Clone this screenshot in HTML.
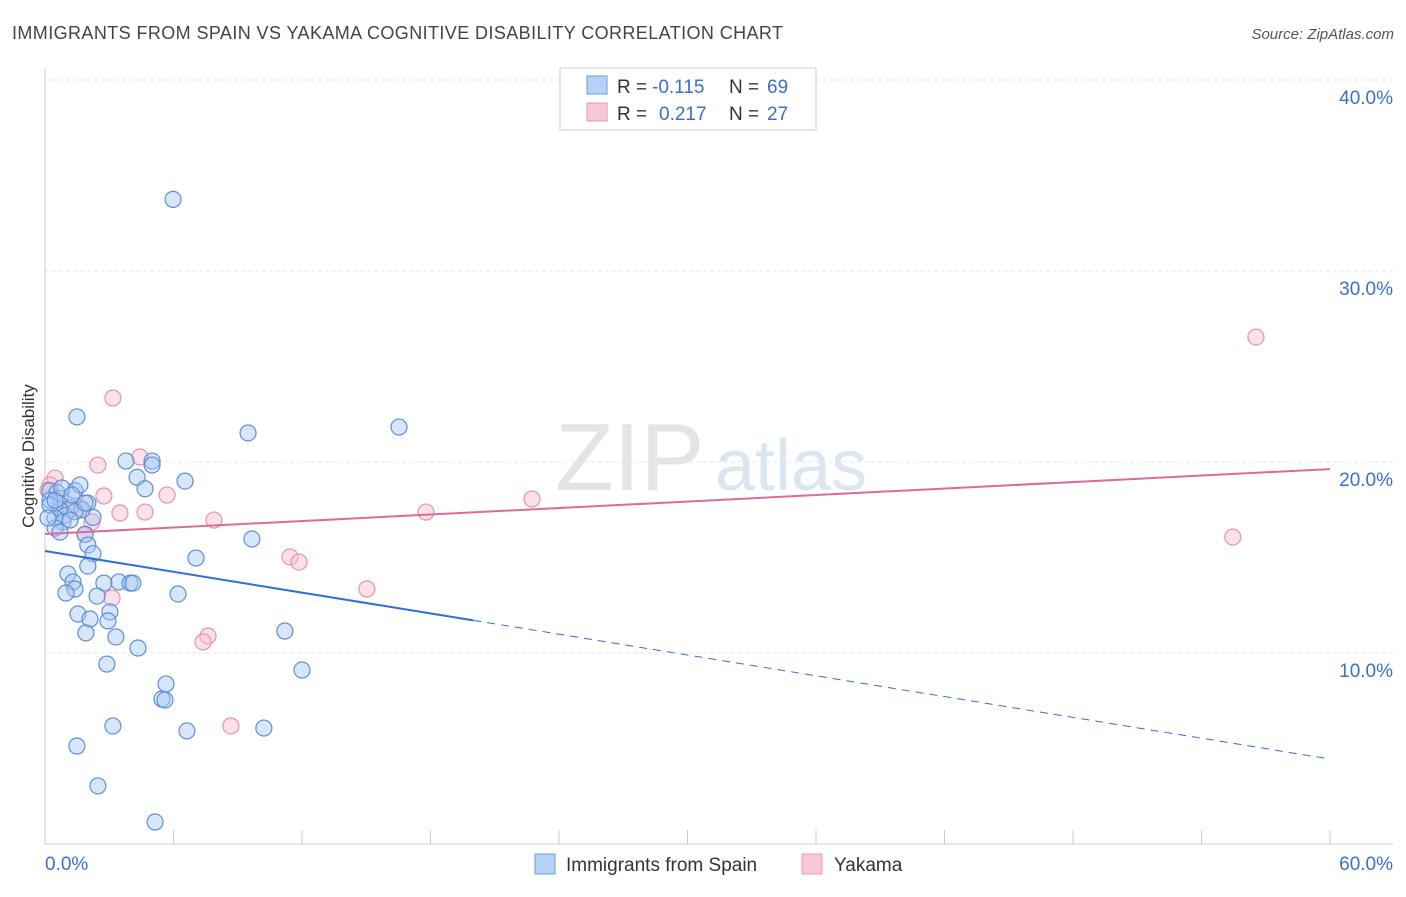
<!DOCTYPE html>
<html><head><meta charset="utf-8"><style>
body{margin:0;background:#fff;font-family:"Liberation Sans",sans-serif}
svg text{font-family:"Liberation Sans",sans-serif}
</style></head><body>
<svg id="c" width="1406" height="892" viewBox="0 0 1406 892" xmlns="http://www.w3.org/2000/svg">
<text x="12" y="39" font-size="18" fill="#444" textLength="771" lengthAdjust="spacing">IMMIGRANTS FROM SPAIN VS YAKAMA COGNITIVE DISABILITY CORRELATION CHART</text>
<text x="1394" y="39" font-size="15" fill="#555" text-anchor="end" font-style="italic">Source: ZipAtlas.com</text>
<text x="555" y="490" font-size="96" fill="#e4e4e4" font-family="Liberation Serif">ZIP</text>
<text x="715" y="490" font-size="72" fill="#dce6f3">atlas</text>
<text transform="translate(34,456) rotate(-90)" font-size="17" fill="#333" text-anchor="middle">Cognitive Disability</text>
<g id="grid"></g><g id="marks"></g>
<g>
<rect x="560" y="68" width="256" height="62" fill="#fff" stroke="#ccc"/>
<rect x="587" y="76" width="20" height="18" fill="#b5d1f5" stroke="#6a9de0"/>
<rect x="587" y="103" width="20" height="18" fill="#f9c8d6" stroke="#e79ab3"/>
<text x="617" y="93" font-size="19" fill="#333">R =</text>
<text x="652" y="93" font-size="19" fill="#3a6fd0">-0.115</text>
<text x="729" y="93" font-size="19" fill="#333">N =</text>
<text x="767" y="93" font-size="19" fill="#3a6fd0">69</text>
<text x="617" y="120" font-size="19" fill="#333">R =</text>
<text x="659" y="120" font-size="19" fill="#3a6fd0">0.217</text>
<text x="729" y="120" font-size="19" fill="#333">N =</text>
<text x="767" y="120" font-size="19" fill="#3a6fd0">27</text>
</g>
<g>
<rect x="535" y="854" width="20" height="20" fill="#b5d1f5" stroke="#6a9de0"/>
<text x="566" y="871" font-size="19" fill="#333">Immigrants from Spain</text>
<rect x="802" y="854" width="20" height="20" fill="#f9c8d6" stroke="#e79ab3"/>
<text x="834" y="871" font-size="19" fill="#333">Yakama</text>
</g>
</svg>
<script>
const yTicks=[10,20,30,40];
const xTickLabels=["0.0%","60.0%"];
const blueX=[5.98,1.49,9.48,16.53,3.78,5.0,5.0,6.54,4.3,4.67,0.23,0.56,0.7,0.23,1.4,1.63,2.0,1.17,0.7,0.93,0.47,2.24,1.73,1.4,0.84,0.47,0.7,1.87,2.0,2.24,9.66,7.05,2.0,1.07,1.31,2.75,3.45,3.97,4.1,1.4,0.98,6.21,2.43,3.03,1.54,2.1,2.94,1.91,3.31,11.2,4.34,2.89,12.0,5.65,5.46,5.6,3.17,6.63,10.22,1.49,2.47,5.14,0.23,0.47,0.14,1.17,0.79,1.87,1.26];
const blueY=[33.75,22.36,21.52,21.83,20.05,20.05,19.84,19.0,19.2,18.6,18.5,18.4,18.1,18.0,18.5,18.8,17.85,17.6,17.5,17.2,17.07,17.1,17.5,17.4,16.86,16.54,16.33,16.2,15.65,15.2,15.97,14.97,14.55,14.14,13.72,13.66,13.72,13.66,13.66,13.35,13.14,13.09,12.98,12.15,12.04,11.78,11.68,11.05,10.84,11.15,10.26,9.42,9.11,8.38,7.59,7.54,6.18,5.92,6.07,5.13,3.04,1.15,17.75,18.0,17.07,16.96,18.64,17.85,18.27];
const pinkX=[56.54,3.17,2.47,4.43,0.47,0.23,2.75,5.7,22.74,3.5,4.67,7.89,17.79,2.19,1.63,1.87,55.46,11.44,11.86,15.03,3.13,7.61,7.38,8.68,0.7,1.17,0.14];
const pinkY=[26.54,23.35,19.84,20.26,19.16,18.8,18.22,18.27,18.06,17.33,17.38,16.96,17.38,16.86,17.6,16.23,16.07,15.03,14.76,13.35,12.88,10.89,10.58,6.18,17.75,17.49,18.53];
const blueTrend=[15.34,4.45], blueSolidEnd=20;
const pinkTrend=[16.23,19.63];
const X=v=>45+v*21.417, Y=v=>844-v*19.1;
const NS="http://www.w3.org/2000/svg";
function mk(t,a,p){const e=document.createElementNS(NS,t);for(const k in a)e.setAttribute(k,a[k]);p.appendChild(e);return e;}
const g=document.getElementById('grid'),m=document.getElementById('marks');
yTicks.forEach(t=>{
 const l=mk('line',{x1:45,x2:1393,y1:Y(t),y2:Y(t),stroke:'#e6e6e6','stroke-dasharray':'4,3'},g);
 
 
 const tx=mk('text',{x:1393,y:Y(t)+24,'font-size':19,fill:'#3a6fd0','text-anchor':'end'},g);
 tx.textContent=t.toFixed(1)+'%';
 
 
});
const ax=mk('line',{x1:45,x2:45,y1:68,y2:844,stroke:'#ccc'},g);


const bx=mk('line',{x1:45,x2:1393,y1:844,y2:844,stroke:'#ccc'},g);


for(let i=0;i<=10;i++){const t=mk('line',{x1:X(i*6),x2:X(i*6),y1:830,y2:844,stroke:'#ccc'},g);
 
 }
[[0,'start',45],[1,'end',1393]].forEach(([i,a,x])=>{const t=mk('text',{x:x,y:870,'font-size':19,fill:'#3a6fd0','text-anchor':a},g);t.textContent=xTickLabels[i];
 
 });
function pts(xs,ys,f,s,n){xs.forEach((x,i)=>{const c=mk('circle',{cx:X(x),cy:Y(ys[i]),r:8,fill:f,'fill-opacity':0.45,stroke:s,'stroke-width':1.2},m);
 
 });}
pts(pinkX,pinkY,'#f7bfd0','#e890ad','yakama-point');
pts(blueX,blueY,'#a9c8f2','#5b8fd9','spain-point');
const bv=x=>blueTrend[0]+(blueTrend[1]-blueTrend[0])*x/60;
let l1=mk('line',{x1:X(0),y1:Y(bv(0)),x2:X(blueSolidEnd),y2:Y(bv(blueSolidEnd)),stroke:'#2f6fd6','stroke-width':2},m);


let l2=mk('line',{x1:X(blueSolidEnd),y1:Y(bv(blueSolidEnd)),x2:X(60),y2:Y(bv(60)),stroke:'#2f6fd6','stroke-width':1,'stroke-dasharray':'8,6'},m);


let l3=mk('line',{x1:X(0),y1:Y(pinkTrend[0]),x2:X(60),y2:Y(pinkTrend[1]),stroke:'#e0699a','stroke-width':2},m);


</script>
</body></html>
